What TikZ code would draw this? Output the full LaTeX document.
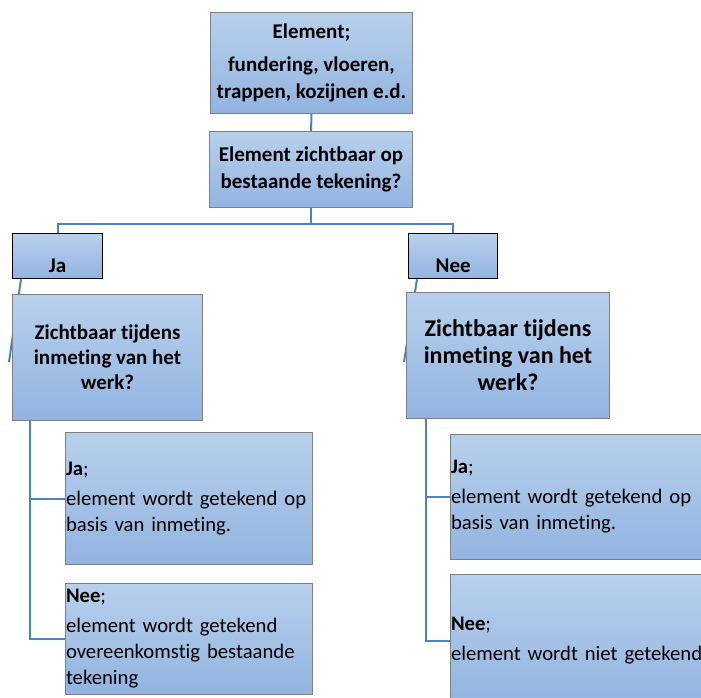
\documentclass[tikz,border=0pt]{standalone}
\usepackage{fontspec}
\setmainfont{Carlito}[Ligatures={NoCommon}]
\usetikzlibrary{calc,backgrounds}
\definecolor{connc}{HTML}{4F81BD}
\definecolor{boxtop}{HTML}{B8D0EC}
\definecolor{boxbot}{HTML}{92B4E0}
\definecolor{boxedge}{HTML}{7F7F7F}
\tikzset{
 box/.style={draw=boxedge, line width=1pt, top color=boxtop, bottom color=boxbot, inner sep=0pt, anchor=north west, font=\fontsize{21}{27}\selectfont\bfseries, align=center},
 tagbox/.style={box, draw=black, line width=1.3pt, text height=33pt, text depth=0pt},
 leaf/.style={box, font=\fontsize{20.7}{26}\selectfont, align=left, inner xsep=0.5pt, text width=#1},
 connector/.style={draw=connc, line width=2pt},
}
\begin{document}
\begin{tikzpicture}[x=1pt,y=-1pt]
\useasboundingbox (0,0) rectangle (701,698);
\clip (0,0) rectangle (701,698);
\node[box, minimum width=202pt, minimum height=101pt] (el) at (210,12) {Element;\\[6pt]fundering, vloeren,\\trappen, kozijnen e.d.};
\node[box, minimum width=203pt, minimum height=76pt] (q) at (209,131) {Element zichtbaar op\\bestaande tekening?};
\node[tagbox, minimum width=90pt, minimum height=45pt] (ja) at (12,233) {Ja};
\node[tagbox, minimum width=89pt, minimum height=45pt] (nee) at (408,233) {Nee};
\node[box, minimum width=190pt, minimum height=126pt, font=\fontsize{21}{25}\selectfont\bfseries] (z1) at (12,294) {Zichtbaar tijdens\\inmeting van het\\werk?};
\node[box, minimum width=203pt, minimum height=126pt, font=\fontsize{24}{27}\selectfont\bfseries] (z2) at (406,292) {Zichtbaar tijdens\\inmeting van het\\werk?};
\node[leaf=246pt, minimum width=247pt, minimum height=132pt] (s1) at (65,432) {\textbf{Ja};\\[4pt]element wordt getekend op\\basis van inmeting.};
\node[leaf=246pt, minimum width=247pt, minimum height=111pt] (s2) at (65,583) {\textbf{Nee};\\[4pt]element wordt getekend\\overeenkomstig bestaande\\tekening};
\node[leaf=261pt, minimum width=262pt, minimum height=125pt] (s3) at (450,434) {\textbf{Ja};\\[4pt]element wordt getekend op\\basis van inmeting.};
\node[leaf=261pt, minimum width=262pt, minimum height=132pt] (s4) at (450,574) {\textbf{Nee};\\[4pt]element wordt niet getekend};
\coordinate (jt) at (9,362);
\coordinate (nt) at (404,362);
\begin{scope}[on background layer]
\draw[connector] (el.south) -- (q.north);
\draw[connector] (q.south) -- ++(0,16) -| (ja.north);
\draw[connector] (q.south) -- ++(0,16) -| (nee.north);
\draw[connector] ($(ja.south west)+(9,0)$) -- (jt);
\draw[connector] ($(nee.south west)+(9,0)$) -- (nt);
\draw[connector] ($(z1.south west)+(18,0)$) |- (s1.west);
\draw[connector] ($(z1.south west)+(18,0)$) |- (s2.west);
\draw[connector] ($(z2.south west)+(20,0)$) |- (s3.west);
\draw[connector] ($(z2.south west)+(20,0)$) |- (s4.west);
\end{scope}
\end{tikzpicture}
\end{document}
